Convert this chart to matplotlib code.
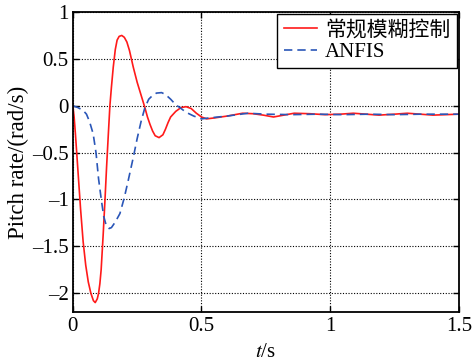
import matplotlib.pyplot as plt

plt.rcParams['font.family'] = ['Liberation Serif', 'Noto Sans CJK SC']
plt.rcParams['mathtext.fontset'] = 'stix'

# 常规模糊控制 (red, solid)
t_fuzzy = [0.0, 0.005, 0.01, 0.02, 0.03, 0.04, 0.05, 0.06, 0.07, 0.08, 0.087,
           0.095, 0.10, 0.105, 0.11, 0.118, 0.125, 0.131, 0.138, 0.144, 0.15,
           0.157, 0.165, 0.172, 0.18, 0.19, 0.20, 0.21, 0.22, 0.235, 0.25,
           0.26, 0.27, 0.28, 0.29, 0.30, 0.31, 0.32, 0.335, 0.35, 0.36, 0.37,
           0.38, 0.40, 0.42, 0.44, 0.46, 0.48, 0.50, 0.52, 0.55, 0.60, 0.66,
           0.70, 0.74, 0.78, 0.82, 0.86, 0.92, 0.98, 1.04, 1.09, 1.14, 1.19,
           1.25, 1.30, 1.35, 1.40, 1.45, 1.50]
q_fuzzy = [0.0, -0.12, -0.3, -0.7, -1.1, -1.45, -1.7, -1.88, -2.0, -2.08, -2.1,
           -2.06, -2.0, -1.9, -1.75, -1.37, -1.0, -0.66, -0.3, 0.0, 0.2,
           0.41, 0.6, 0.7, 0.74, 0.75, 0.73, 0.68, 0.59, 0.41, 0.25,
           0.16, 0.07, -0.02, -0.12, -0.2, -0.27, -0.32, -0.34, -0.31, -0.25, -0.18,
           -0.12, -0.06, -0.02, -0.01, -0.03, -0.08, -0.12, -0.14, -0.13, -0.11, -0.08,
           -0.085, -0.1, -0.12, -0.1, -0.08, -0.085, -0.095, -0.09, -0.08, -0.09, -0.1,
           -0.09, -0.08, -0.09, -0.1, -0.095, -0.09]

# ANFIS (blue, dashed)
t_anfis = [0.0, 0.02, 0.04, 0.053, 0.065, 0.079, 0.09, 0.10, 0.111, 0.12, 0.13,
           0.141, 0.15, 0.165, 0.183, 0.20, 0.215, 0.235, 0.25, 0.265, 0.28,
           0.295, 0.31, 0.325, 0.345, 0.36, 0.38, 0.40, 0.416, 0.44, 0.47,
           0.50, 0.53, 0.60, 0.68, 0.75, 0.85, 0.95, 1.05, 1.15, 1.25, 1.35, 1.50]
q_anfis = [0.0, -0.02, -0.05, -0.09, -0.17, -0.3, -0.5, -0.78, -1.01, -1.18, -1.28,
           -1.31, -1.3, -1.24, -1.15, -0.98, -0.8, -0.55, -0.35, -0.17, -0.02,
           0.07, 0.11, 0.135, 0.14, 0.12, 0.07, 0.01, -0.02, -0.07, -0.11,
           -0.14, -0.13, -0.11, -0.08, -0.09, -0.095, -0.09, -0.095, -0.09, -0.095, -0.09, -0.09]

x_ticks = [0, 0.5, 1, 1.5]
x_labels = ['0', '0.5', '1', '1.5']
y_ticks = [-2, -1.5, -1, -0.5, 0, 0.5, 1]
y_labels = ['\u20132', '\u20131.5', '\u20131', '\u20130.5', '0', '0.5', '1']

fig = plt.figure(figsize=(4.73, 3.64), dpi=100)
ax = fig.add_axes([0.154, 0.143, 0.816, 0.824])

ax.plot(t_fuzzy, q_fuzzy, color='#ff1a1a', lw=1.2, label='常规模糊控制')
ax.plot(t_anfis, q_anfis, color='#2a56b8', lw=1.2, ls=(0, (5, 3)), label='ANFIS')

ax.set_xlim(0, 1.5)
ax.set_ylim(-2.2, 1)
ax.set_xticks(x_ticks)
ax.set_xticklabels(x_labels)
ax.set_yticks(y_ticks)
ax.set_yticklabels(y_labels)
ax.tick_params(direction='in', top=True, right=True, labelsize=15, length=4, width=1)
ax.tick_params(axis='y', pad=3)
ax.grid(True, color='black', ls=(0, (1, 1.5)), lw=0.8)
for s in ax.spines.values():
    s.set_linewidth(1.3)

ax.set_xlabel('$t$/s', fontsize=15, labelpad=5)
ax.set_ylabel('Pitch rate/(rad/s)', fontsize=16.5, labelpad=2)

leg = ax.legend(loc='upper right', fontsize=15, handlelength=1.6, fancybox=False,
                framealpha=1, edgecolor='black', borderaxespad=0.1,
                labelspacing=0.1, borderpad=0.3, handletextpad=0.4)
leg.get_frame().set_linewidth(1.0)

fig.savefig('out.png', dpi=100)
